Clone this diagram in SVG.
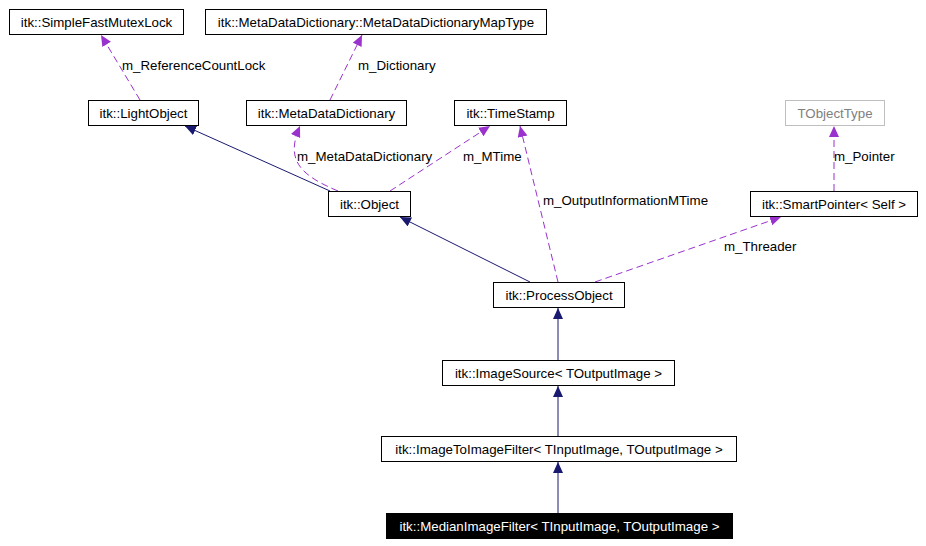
<svg xmlns="http://www.w3.org/2000/svg" width="926" height="546" viewBox="0 0 926 546">
<style>
text{font-family:"Liberation Sans",Arial,sans-serif;font-size:13.3px;fill:#000}
.n rect{fill:#fff;stroke:#000;stroke-width:1}
.c{text-anchor:middle}
.inh{stroke:#191970;fill:none;stroke-width:1}
.use{stroke:#9a32cd;fill:none;stroke-width:1;stroke-dasharray:7,4}
</style>
<defs>
<marker id="an" markerWidth="12" markerHeight="12" refX="11" refY="5" orient="auto" markerUnits="userSpaceOnUse"><path d="M0,0 L11,5 L0,10 z" fill="#191970"/></marker>
<marker id="ap" markerWidth="12" markerHeight="12" refX="11" refY="5" orient="auto" markerUnits="userSpaceOnUse"><path d="M0,0 L11,5 L0,10 z" fill="#9a32cd"/></marker>
</defs>
<g id="connectors">
<path class="inh" d="M330,191 L185,126" marker-end="url(#an)"/>
<path class="inh" d="M530,282 L400,217" marker-end="url(#an)"/>
<path class="inh" d="M558,360 L558,308" marker-end="url(#an)"/>
<path class="inh" d="M558,436 L558,386" marker-end="url(#an)"/>
<path class="inh" d="M558,513 L558,462" marker-end="url(#an)"/>
<path class="use" d="M140,100 L101,35" marker-end="url(#ap)"/>
<path class="use" d="M330,100 L362,35" marker-end="url(#ap)"/>
<path class="use" d="M338,191 C300,175 285,160 300,126" marker-end="url(#ap)"/>
<path class="use" d="M390,191 L490,126" marker-end="url(#ap)"/>
<path class="use" d="M558,282 L520,126" marker-end="url(#ap)"/>
<path class="use" d="M595,282 L781,217" marker-end="url(#ap)"/>
<path class="use" d="M834,191 L834,126" marker-end="url(#ap)"/>
<text x="122" y="70">m_ReferenceCountLock</text>
<text x="358" y="70">m_Dictionary</text>
<text x="297" y="161">m_MetaDataDictionary</text>
<text x="463" y="161">m_MTime</text>
<text x="543" y="205">m_OutputInformationMTime</text>
<text x="724" y="251">m_Threader</text>
<text x="834" y="161">m_Pointer</text>
</g>
<g id="n1" class="n"><rect x="9.5" y="9.5" width="174" height="25"/><text class="c" x="96.5" y="26.5">itk::SimpleFastMutexLock</text></g>
<g id="n2" class="n"><rect x="205.5" y="9.5" width="341" height="25"/><text class="c" x="376" y="26.5">itk::MetaDataDictionary::MetaDataDictionaryMapType</text></g>
<g id="n3" class="n"><rect x="88.5" y="100.5" width="110" height="25"/><text class="c" x="143.5" y="117.5">itk::LightObject</text></g>
<g id="n4" class="n"><rect x="246.5" y="100.5" width="160" height="25"/><text class="c" x="326.5" y="117.5">itk::MetaDataDictionary</text></g>
<g id="n5" class="n"><rect x="454.5" y="100.5" width="112" height="25"/><text class="c" x="510.5" y="117.5">itk::TimeStamp</text></g>
<g id="n6" class="n"><rect x="785.5" y="100.5" width="99" height="25" style="stroke:#bfbfbf"/><text class="c" x="835" y="117.5" style="fill:#808080">TObjectType</text></g>
<g id="n7" class="n"><rect x="328.5" y="191.5" width="82" height="25"/><text class="c" x="369.5" y="208.5">itk::Object</text></g>
<g id="n8" class="n"><rect x="750.5" y="191.5" width="167" height="25"/><text class="c" x="834" y="208.5">itk::SmartPointer&lt; Self &gt;</text></g>
<g id="n9" class="n"><rect x="493.5" y="282.5" width="131" height="25"/><text class="c" x="559" y="299.5">itk::ProcessObject</text></g>
<g id="n10" class="n"><rect x="442.5" y="360.5" width="232" height="25"/><text class="c" x="558.5" y="377.5">itk::ImageSource&lt; TOutputImage &gt;</text></g>
<g id="n11" class="n"><rect x="381.5" y="436.5" width="355" height="25"/><text class="c" x="559" y="453.5">itk::ImageToImageFilter&lt; TInputImage, TOutputImage &gt;</text></g>
<g id="n12" class="n"><rect x="386.5" y="513.5" width="346" height="25" style="fill:#000"/><text class="c" x="559.5" y="530.5" style="fill:#fff">itk::MedianImageFilter&lt; TInputImage, TOutputImage &gt;</text></g>
</svg>
